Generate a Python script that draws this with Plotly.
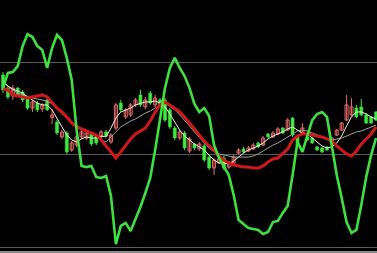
import plotly.graph_objects as go

# candle index (time step)
idx = list(range(77))

opens = [93.0,85.9,81.6,85.9,83.8,80.5,75.1,77.8,74.6,79.5,
         70.0,67.6,59.5,61.6,52.4,55.1,59.5,58.9,61.1,59.5,
         59.5,62.2,56.8,64.3,77.8,70.3,71.4,76.8,82.2,75.7,
         83.2,76.8,79.5,79.5,74.1,64.3,58.9,61.6,51.9,55.7,
         53.0,54.6,48.6,42.7,45.4,48.1,43.2,45.4,50.8,53.0,
         51.9,53.0,56.2,55.1,61.1,59.5,61.1,64.3,63.2,69.7,
         59.5,61.6,59.5,58.9,54.1,53.5,54.1,56.2,60.5,63.2,
         68.6,71.4,75.1,75.7,71.4,70.3,73.0]
highs = [94.6,87.0,87.6,86.5,84.9,81.6,79.5,78.9,77.8,80.5,
         74.6,68.6,63.2,62.7,57.3,60.5,63.2,62.7,62.2,60.5,
         63.2,63.2,61.6,77.8,79.5,75.1,77.8,80.5,84.9,81.1,
         84.3,82.2,80.5,80.5,75.1,65.4,63.2,62.7,59.5,56.2,
         56.8,55.7,49.7,48.1,48.6,49.2,46.5,49.7,53.5,54.1,
         54.6,56.2,56.8,60.0,61.6,62.7,64.9,64.9,69.7,70.3,
         60.5,67.0,60.5,59.5,54.6,54.1,54.6,59.5,63.8,67.6,
         82.2,80.5,76.8,80.0,72.4,70.8,73.5]
lows = [83.2,80.0,79.5,81.1,78.4,74.1,73.0,73.0,73.0,73.5,
        66.5,60.5,58.4,50.3,51.4,54.1,58.4,57.8,54.6,55.1,
        58.4,59.5,55.7,63.2,73.0,69.2,70.3,75.7,75.7,74.6,
        76.8,75.7,75.7,67.6,63.8,57.8,57.8,52.4,50.8,52.4,
        51.9,46.0,41.6,38.9,44.9,41.6,42.2,44.3,50.3,50.8,
        51.4,52.4,53.5,54.6,58.9,58.9,60.5,61.1,62.7,59.5,
        54.1,61.1,57.3,55.7,51.9,50.8,51.9,55.7,60.0,62.7,
        68.1,70.8,69.7,70.8,66.5,66.5,68.1]
closes = [84.9,81.1,85.9,82.2,79.5,75.1,78.4,74.1,76.8,74.1,
          71.4,61.6,62.2,51.4,56.2,59.5,62.2,61.6,55.7,56.2,
          62.2,60.0,60.5,76.8,74.1,74.1,76.8,79.5,76.8,79.5,
          77.8,80.5,76.8,68.6,64.9,58.9,62.2,53.5,58.4,53.5,
          55.7,47.0,42.7,47.0,47.6,42.7,45.9,48.6,52.4,51.4,
          53.5,55.1,54.1,58.9,59.5,61.6,63.8,61.6,68.6,60.5,
          55.1,64.3,57.8,56.2,52.4,51.4,52.4,58.9,63.2,67.0,
          76.8,75.7,70.3,71.4,67.0,67.0,68.6]

# short average (white)
ma_short = [89.2,87.0,85.4,84.3,83.2,81.1,79.5,77.8,76.8,76.8,
            74.1,69.7,64.9,60.5,57.8,56.8,58.4,59.5,58.9,58.9,
            60.0,59.5,64.3,69.7,73.0,74.1,75.1,76.8,77.8,78.4,
            78.4,78.9,77.8,75.7,71.9,67.6,63.2,60.0,57.8,55.7,
            54.1,52.4,49.7,47.0,45.4,45.4,44.9,46.5,48.6,50.8,
            52.4,53.5,54.6,56.2,58.4,60.0,61.1,62.2,63.8,64.9,
            63.2,61.6,61.1,58.9,56.8,54.6,53.5,54.1,56.2,60.0,
            65.4,70.3,73.0,73.0,71.9,70.3,69.2]
# long average (grey)
ma_long = [89.2,87.0,84.9,83.2,82.2,81.1,80.5,80.0,79.5,78.9,
           77.3,75.1,72.4,69.7,67.6,65.4,63.8,62.2,61.1,59.5,
           57.8,56.8,59.5,62.7,64.9,66.5,68.1,69.2,70.8,72.4,
           73.5,75.1,76.8,77.8,75.7,74.1,71.4,68.6,65.4,62.2,
           58.9,56.2,53.5,51.4,50.3,49.7,49.2,48.6,48.6,48.6,
           48.6,49.2,50.3,51.9,53.5,55.1,56.2,57.8,59.5,61.1,
           62.7,63.2,62.7,61.6,60.5,59.5,58.4,57.8,58.4,58.9,
           60.0,61.1,62.2,62.7,63.8,64.9,65.9]
# red band line
red_line = [85.4,84.9,82.2,81.6,81.1,80.5,81.1,81.6,82.2,81.1,
            77.8,75.1,73.0,70.3,67.0,64.9,63.8,62.7,61.6,60.5,
            57.8,54.6,50.8,48.1,51.4,55.1,58.4,61.1,62.7,64.3,
            68.1,73.0,76.8,78.4,76.8,75.1,73.0,70.3,67.0,63.8,
            60.5,57.3,54.6,52.4,49.2,47.0,45.4,44.3,43.8,43.2,
            43.2,42.7,42.7,43.8,45.9,47.6,48.1,50.3,53.0,57.8,
            60.0,61.1,61.1,60.5,60.0,59.5,58.4,57.3,54.6,52.4,
            50.3,49.2,51.9,55.7,58.4,61.1,64.9]
# oscillator (green)
osc = [85.9,94.1,94.6,97.8,108.6,115.1,113.5,108.6,106.5,96.8,
       107.6,114.6,111.9,102.2,90.3,63.2,43.8,43.2,43.8,37.8,
       37.3,38.4,27.6,1.6,11.4,13.0,8.6,14.6,21.6,29.2,
       37.3,52.4,69.7,85.9,96.8,102.2,96.8,92.4,85.9,77.3,
       73.0,75.1,70.8,55.1,48.1,43.8,38.9,28.1,14.6,12.4,
       10.3,9.7,9.2,7.0,8.1,13.5,14.1,18.4,22.2,38.9,
       56.8,51.4,60.5,68.6,71.9,73.0,70.3,53.5,38.9,26.5,
       13.5,7.6,9.2,22.7,37.8,49.7,58.9]

grid_levels = [0, 50, 100]

UP = "#e86a6a"
DOWN = "#3ee83e"

up_i = [i for i in idx if closes[i] >= opens[i]]
dn_i = [i for i in idx if closes[i] < opens[i]]

fig = go.Figure()

def wick_xy(ids):
    xs, ys = [], []
    for i in ids:
        xs += [i, i, None]
        ys += [lows[i], highs[i], None]
    return xs, ys

for ids, col in ((up_i, UP), (dn_i, DOWN)):
    wx, wy = wick_xy(ids)
    fig.add_trace(go.Scatter(x=wx, y=wy, mode="lines",
                             line=dict(color=col, width=1),
                             hoverinfo="skip", showlegend=False))

fig.add_trace(go.Bar(
    x=up_i, base=[opens[i] for i in up_i],
    y=[max(closes[i] - opens[i], 0.4) for i in up_i],
    width=0.62, marker=dict(color="#000000", line=dict(color=UP, width=1)),
    showlegend=False, hoverinfo="skip"))
fig.add_trace(go.Bar(
    x=dn_i, base=[closes[i] for i in dn_i],
    y=[opens[i] - closes[i] for i in dn_i],
    width=0.62, marker=dict(color=DOWN, line=dict(color=DOWN, width=0.5)),
    showlegend=False, hoverinfo="skip"))

fig.add_trace(go.Scatter(x=idx, y=ma_long, mode="lines",
                         line=dict(color="#a0a0a0", width=1), showlegend=False))
fig.add_trace(go.Scatter(x=idx, y=ma_short, mode="lines",
                         line=dict(color="#f4f0d8", width=1), showlegend=False))
fig.add_trace(go.Scatter(x=idx, y=red_line, mode="lines",
                         line=dict(color="#d01818", width=3), showlegend=False))
fig.add_trace(go.Scatter(x=idx, y=osc, mode="lines",
                         line=dict(color="#40e040", width=2.6), showlegend=False))

fig.update_layout(
    width=377, height=253,
    margin=dict(l=0, r=0, t=0, b=2),
    paper_bgcolor="#000000", plot_bgcolor="#000000",
    showlegend=False, barmode="overlay",
    xaxis=dict(range=[-0.611, 76.2], showgrid=False, zeroline=False,
               showticklabels=False, showline=True, linecolor="#8a8a8a",
               linewidth=2),
    yaxis=dict(range=[-2.16, 133.51], tickvals=grid_levels, showgrid=True,
               gridcolor="#5a5a5a", gridwidth=1, zeroline=False,
               showticklabels=False),
)
fig.write_html("out.html")
